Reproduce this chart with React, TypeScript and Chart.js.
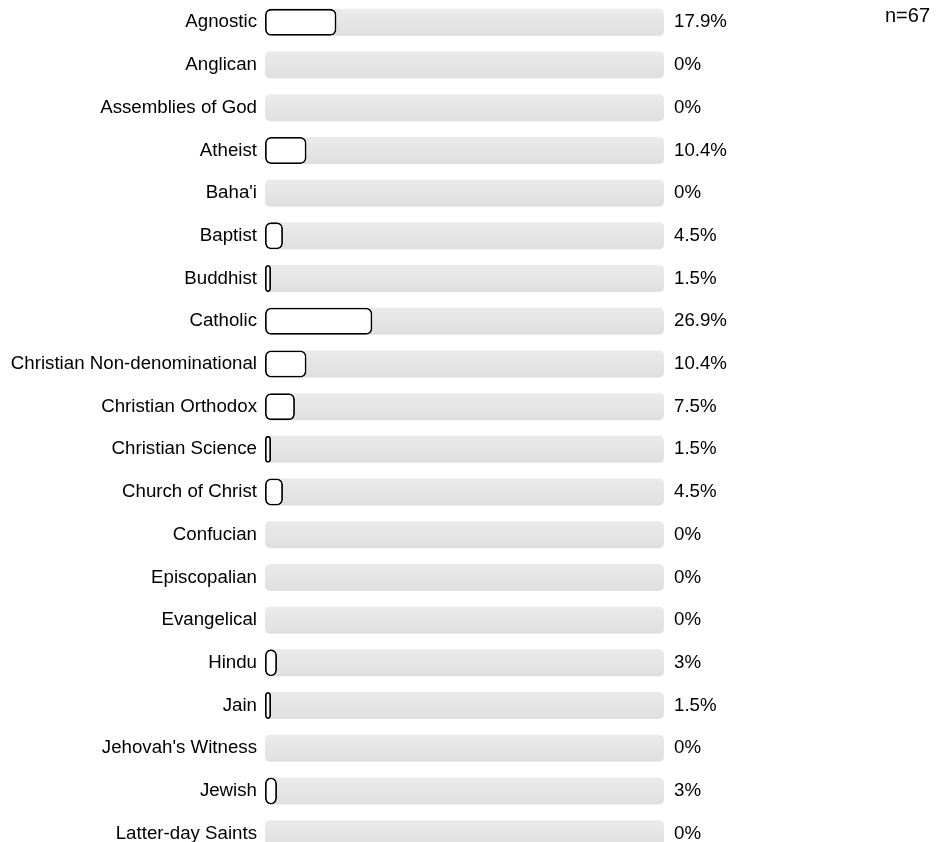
import React, { useEffect, useRef } from "react";
import { Chart, registerables } from "chart.js";

Chart.register(...registerables);

const categories: string[] = [
  "Agnostic",
  "Anglican",
  "Assemblies of God",
  "Atheist",
  "Baha'i",
  "Baptist",
  "Buddhist",
  "Catholic",
  "Christian Non-denominational",
  "Christian Orthodox",
  "Christian Science",
  "Church of Christ",
  "Confucian",
  "Episcopalian",
  "Evangelical",
  "Hindu",
  "Jain",
  "Jehovah's Witness",
  "Jewish",
  "Latter-day Saints",
];

const values: number[] = [
  17.9, 0, 0, 10.4, 0, 4.5, 1.5, 26.9, 10.4, 7.5, 1.5, 4.5, 0, 0, 0, 3, 1.5, 0, 3, 0,
];

const valueLabels: string[] = [
  "17.9%", "0%", "0%", "10.4%", "0%", "4.5%", "1.5%", "26.9%", "10.4%", "7.5%",
  "1.5%", "4.5%", "0%", "0%", "0%", "3%", "1.5%", "0%", "3%", "0%",
];

const trackValues: number[] = categories.map(() => 100);
const sampleLabel = "n=67";

const FONT = "'Liberation Sans', Arial, Helvetica, sans-serif";
const BAR_PCT = 0.633;

export default function App() {
  const ref = useRef<HTMLCanvasElement | null>(null);

  useEffect(() => {
    if (!ref.current) return;
    const nPlugin = {
      id: "nLabel",
      afterDraw(chart: any) {
        const ctx = chart.ctx;
        ctx.save();
        ctx.font = `20px ${FONT}`;
        ctx.fillStyle = "#000";
        ctx.textAlign = "right";
        ctx.textBaseline = "middle";
        ctx.fillText(sampleLabel, 930, 16);
        ctx.restore();
      },
    };
    const trackColor = (context: any) => {
      const chart = context.chart;
      const yScale = chart.scales && chart.scales.y;
      if (!yScale || context.dataIndex === undefined) return "#e5e5e5";
      const cy = yScale.getPixelForValue(context.dataIndex);
      const half = ((yScale.height || 0) / categories.length) * BAR_PCT / 2;
      if (!isFinite(cy) || !isFinite(half) || half <= 0) return "#e5e5e5";
      const g = chart.ctx.createLinearGradient(0, cy - half, 0, cy + half);
      g.addColorStop(0, "#ebebeb");
      g.addColorStop(1, "#dfdfdf");
      return g;
    };
    const chart = new Chart(ref.current, {
      type: "bar",
      data: {
        labels: categories,
        datasets: [
          {
            label: "value",
            data: values.map((v) => (v === 0 ? null : v)),
            backgroundColor: "#ffffff",
            borderColor: "#000000",
            borderWidth: 1.8,
            borderRadius: 6,
            borderSkipped: false,
            grouped: false,
            order: 0,
            barPercentage: BAR_PCT,
            categoryPercentage: 1,
          } as any,
          {
            label: "track",
            data: trackValues,
            backgroundColor: trackColor,
            borderWidth: 0,
            borderRadius: 5,
            borderSkipped: false,
            grouped: false,
            order: 1,
            barPercentage: BAR_PCT,
            categoryPercentage: 1,
          } as any,
        ],
      },
      options: {
        indexAxis: "y",
        animation: false,
        responsive: false,
        maintainAspectRatio: false,
        layout: { padding: { top: 1, bottom: 0, left: 0, right: 0 } },
        plugins: {
          legend: { display: false },
          tooltip: { enabled: false },
        },
        scales: {
          x: { min: 0, max: 100, display: false },
          y: {
            type: "category",
            position: "left",
            grid: { display: false, drawTicks: false },
            border: { display: false },
            ticks: {
              padding: 8,
              color: "#000",
              font: { family: FONT, size: 18.7 },
              autoSkip: false,
            },
            afterFit: (scale: any) => {
              scale.width = 265;
              scale.paddingTop = 0;
              scale.paddingBottom = 0;
            },
          },
          y2: {
            type: "category",
            position: "right",
            labels: valueLabels,
            grid: { display: false, drawTicks: false },
            border: { display: false },
            ticks: {
              padding: 10,
              color: "#000",
              font: { family: FONT, size: 18.7 },
              autoSkip: false,
            },
            afterFit: (scale: any) => {
              scale.width = 285;
              scale.paddingTop = 0;
              scale.paddingBottom = 0;
            },
          },
        },
      } as any,
      plugins: [nPlugin],
    });
    return () => chart.destroy();
  }, []);

  return (
    <div style={{ position: "absolute", left: 0, top: 0, width: 949, height: 855 }}>
      <canvas ref={ref} width={949} height={855} style={{ display: "block" }} />
    </div>
  );
}
